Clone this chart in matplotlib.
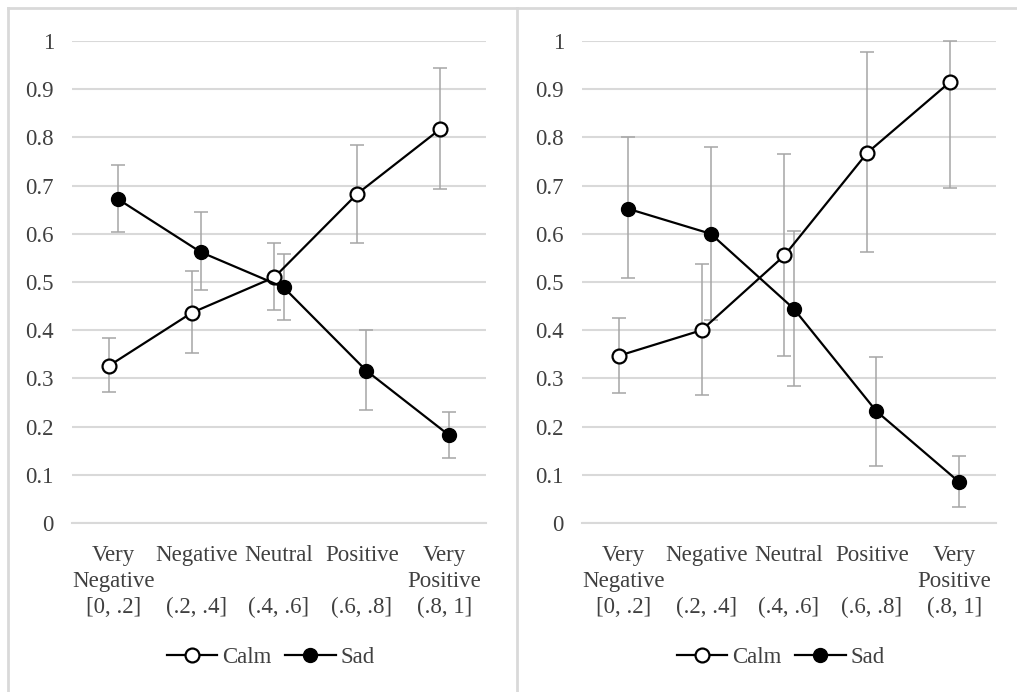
import numpy as np
import matplotlib.pyplot as plt
from matplotlib.lines import Line2D

plt.rcParams.update({
    "font.family": ["Liberation Serif", "DejaVu Serif"],
    "font.size": 16.5,
})

categories = ["Very\nNegative\n[0, .2]", "Negative\n\n(.2, .4]", "Neutral\n\n(.4, .6]",
              "Positive\n\n(.6, .8]", "Very\nPositive\n(.8, 1]"]

# left panel
calm_left = [0.326, 0.436, 0.510, 0.683, 0.817]
calm_left_lo = [0.272, 0.352, 0.441, 0.581, 0.693]
calm_left_hi = [0.384, 0.523, 0.581, 0.785, 0.943]
sad_left = [0.672, 0.562, 0.489, 0.316, 0.182]
sad_left_lo = [0.604, 0.483, 0.422, 0.234, 0.135]
sad_left_hi = [0.742, 0.645, 0.558, 0.401, 0.231]

# right panel
calm_right = [0.347, 0.400, 0.555, 0.768, 0.915]
calm_right_lo = [0.270, 0.265, 0.347, 0.563, 0.694]
calm_right_hi = [0.425, 0.538, 0.765, 0.977, 1.000]
sad_right = [0.652, 0.600, 0.445, 0.232, 0.085]
sad_right_lo = [0.509, 0.421, 0.284, 0.118, 0.033]
sad_right_hi = [0.800, 0.781, 0.605, 0.345, 0.140]

W, H = 1017, 692
fig = plt.figure(figsize=(W / 100, H / 100), dpi=100)

grid_c = "#d9d9d9"
err_c = "#a6a6a6"
text_c = "#404040"

panels = [
    (72, calm_left, calm_left_lo, calm_left_hi, sad_left, sad_left_lo, sad_left_hi),
    (582, calm_right, calm_right_lo, calm_right_hi, sad_right, sad_right_lo, sad_right_hi),
]

x = np.arange(len(categories))
off = 0.055

for left_px, calm, calm_lo, calm_hi, sad, sad_lo, sad_hi in panels:
    ax = fig.add_axes([left_px / W, (H - 523) / H, 414 / W, 482 / H])
    calm = np.array(calm)
    sad = np.array(sad)
    calm_err = [calm - np.array(calm_lo), np.array(calm_hi) - calm]
    sad_err = [sad - np.array(sad_lo), np.array(sad_hi) - sad]

    ax.errorbar(x - off, calm, yerr=calm_err, fmt="none", ecolor=err_c,
                elinewidth=1.1, capsize=5, capthick=1.1, clip_on=False, zorder=2)
    ax.errorbar(x + off, sad, yerr=sad_err, fmt="none", ecolor=err_c,
                elinewidth=1.1, capsize=5, capthick=1.1, clip_on=False, zorder=2)
    ax.plot(x - off, calm, color="black", lw=1.6, marker="o", ms=10,
            mfc="white", mec="black", mew=1.6, label="Calm", clip_on=False, zorder=3)
    ax.plot(x + off, sad, color="black", lw=1.6, marker="o", ms=10,
            mfc="black", mec="black", label="Sad", clip_on=False, zorder=3)

    ax.set_xlim(-0.5, 4.5)
    ax.set_ylim(0, 1)
    ax.set_yticks(np.arange(0, 1.01, 0.1))
    ax.set_yticklabels(["0"] + [f"{v:.1f}" for v in np.arange(0.1, 0.95, 0.1)] + ["1"])
    ax.yaxis.grid(True, color=grid_c, lw=1.5)
    ax.set_axisbelow(True)
    for s in ax.spines.values():
        s.set_visible(False)
    ax.spines["bottom"].set_visible(True)
    ax.spines["bottom"].set_color(grid_c)
    ax.spines["bottom"].set_linewidth(1.5)
    ax.tick_params(axis="both", length=0, colors=text_c)
    ax.tick_params(axis="y", pad=13)
    ax.tick_params(axis="x", pad=16)
    ax.set_xticks(x)
    ax.set_xticklabels(categories, linespacing=1.3)

    ax.legend(loc="upper center", bbox_to_anchor=(0.48, -0.215), ncol=2, frameon=False,
              handlelength=2.2, handletextpad=0.2, columnspacing=0.6,
              labelcolor=text_c)

# panel frame lines
fig.add_artist(Line2D([8 / W, 1.0], [1 - 8 / H, 1 - 8 / H], color=grid_c, lw=2))
fig.add_artist(Line2D([8 / W, 8 / W], [0, 1 - 8 / H], color=grid_c, lw=2))
fig.add_artist(Line2D([517 / W, 517 / W], [0, 1 - 8 / H], color=grid_c, lw=2))

fig.savefig("out.png", dpi=100)
